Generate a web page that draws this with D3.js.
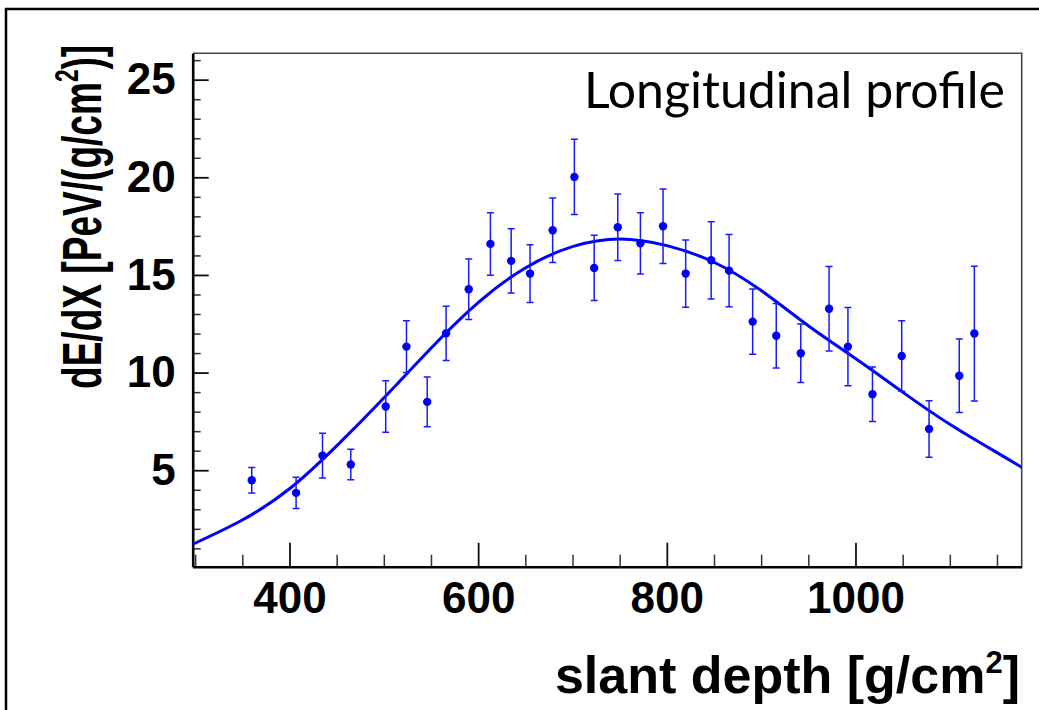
<!DOCTYPE html>
<html>
<head>
<meta charset="utf-8">
<script src="https://cdn.jsdelivr.net/npm/d3@7"></script>
<style>
    html, body { margin: 0; padding: 0; background: #ffffff; }
    svg { display: block; }
    .tick-label { font-family: "Liberation Sans", Arial, Helvetica, sans-serif; font-weight: bold; }
</style>
</head>
<body>
<svg id="chart"></svg>
<script>
// Measured points: slant depth [g/cm2], dE/dX and its error
const depth = [360, 407, 435, 465, 502, 524, 546, 566, 590, 613, 635, 655, 679, 702, 723,
               748, 772, 796, 820, 847, 866, 891, 916, 942, 972, 992, 1018, 1049, 1078, 1110, 1126];
const dedx  = [4.49, 3.84, 5.75, 5.29, 8.26, 11.33, 8.50, 12.01, 14.27, 16.59, 15.72, 15.07, 17.29, 20.02, 15.36,
               17.44, 16.62, 17.49, 15.07, 15.75, 15.22, 12.61, 11.89, 10.99, 13.27, 11.33, 8.89, 10.85, 7.11, 9.84, 12.00];
const dedxErr = [0.65, 0.80, 1.15, 0.78, 1.32, 1.32, 1.27, 1.39, 1.55, 1.60, 1.64, 1.48, 1.65, 1.93, 1.67,
                 1.70, 1.57, 1.91, 1.72, 1.98, 1.85, 1.67, 1.65, 1.50, 2.16, 2.00, 1.39, 1.81, 1.45, 1.88, 3.45];

// Fitted profile, every 50 g/cm2
const fitDepth = [297, 350, 400, 450, 500, 550, 600, 650, 700, 750,
                  800, 850, 900, 950, 1000, 1050, 1100, 1150, 1177];
const fitDedx  = [1.20, 2.45, 4.05, 6.25, 8.70, 11.25, 13.58, 15.36, 16.45, 16.84,
                  16.50, 15.65, 14.20, 12.40, 10.72, 9.00, 7.35, 5.90, 5.13];

const xMajor = [400, 600, 800, 1000];
const yMajor = [5, 10, 15, 20, 25];

(function() {
    'use strict';

    const width = 1039, height = 710;
    const frame = { left: 192.7, right: 1021.7, top: 53.3, bottom: 566.7 };
    const blue = '#0000ff';

    const svg = d3.select('#chart')
        .attr('width', width)
        .attr('height', height);

    svg.append('rect')
        .attr('width', width)
        .attr('height', height)
        .attr('fill', '#ffffff');

    // Outer canvas border (right and bottom sides fall outside the picture)
    svg.append('rect')
        .attr('x', 6)
        .attr('y', 9)
        .attr('width', 1100)
        .attr('height', 800)
        .attr('fill', 'none')
        .attr('stroke', '#000')
        .attr('stroke-width', 2.5);

    // Scales
    const xScale = d3.scaleLinear()
        .domain([297.4, 1176.2])
        .range([frame.left, frame.right]);

    const yScale = d3.scaleLinear()
        .domain([0.06, 26.35])
        .range([frame.bottom, frame.top]);

    const innerW = frame.right - frame.left;
    const innerH = frame.bottom - frame.top;

    // Clip for the fit curve
    svg.append('clipPath')
        .attr('id', 'plot-clip')
        .append('rect')
        .attr('x', frame.left)
        .attr('y', frame.top)
        .attr('width', innerW)
        .attr('height', innerH);

    // Top and right frame lines
    svg.append('path')
        .attr('d', `M${frame.left},${frame.top}H${frame.right}V${frame.bottom}`)
        .attr('fill', 'none')
        .attr('stroke', '#444')
        .attr('stroke-width', 1.6);

    // X axis: minor ticks every 50, major with labels
    const xMinor = d3.range(300, 1176, 50).filter(v => !xMajor.includes(v));

    svg.append('g')
        .attr('transform', `translate(0, ${frame.bottom})`)
        .call(d3.axisBottom(xScale).tickValues(xMinor).tickSize(-12).tickFormat(''))
        .call(g => g.select('.domain').remove())
        .call(g => g.selectAll('line').attr('stroke', '#333').attr('stroke-width', 1.5));

    const xAxis = svg.append('g')
        .attr('transform', `translate(0, ${frame.bottom})`)
        .call(d3.axisBottom(xScale)
            .tickValues(xMajor)
            .tickFormat(d3.format('d'))
            .tickSize(-24)
            .tickSizeOuter(0)
            .tickPadding(15));

    xAxis.select('.domain')
        .attr('stroke', '#000')
        .attr('stroke-width', 2.6);
    xAxis.selectAll('line').attr('stroke', '#111').attr('stroke-width', 1.8);
    xAxis.selectAll('text')
        .attr('class', 'tick-label')
        .attr('fill', '#000')
        .style('font-size', '44px');

    // Y axis: minor ticks every 1, major with labels
    const yMinor = d3.range(1, 27, 1).filter(v => !yMajor.includes(v));

    svg.append('g')
        .attr('transform', `translate(${frame.left}, 0)`)
        .call(d3.axisLeft(yScale).tickValues(yMinor).tickSize(-8).tickFormat(''))
        .call(g => g.select('.domain').remove())
        .call(g => g.selectAll('line').attr('stroke', '#333').attr('stroke-width', 1.5));

    const yAxis = svg.append('g')
        .attr('transform', `translate(${frame.left}, 0)`)
        .call(d3.axisLeft(yScale).tickValues(yMajor).tickSize(-16).tickSizeOuter(0).tickPadding(17));

    yAxis.select('.domain')
        .attr('stroke', '#000')
        .attr('stroke-width', 2.6);
    yAxis.selectAll('line').attr('stroke', '#111').attr('stroke-width', 1.8);
    yAxis.selectAll('text')
        .attr('class', 'tick-label')
        .attr('fill', '#000')
        .style('font-size', '44px');

    // Fit curve
    const line = d3.line()
        .x((d, i) => xScale(fitDepth[i]))
        .y(d => yScale(d))
        .curve(d3.curveNatural);

    svg.append('path')
        .datum(fitDedx)
        .attr('clip-path', 'url(#plot-clip)')
        .attr('fill', 'none')
        .attr('stroke', blue)
        .attr('stroke-width', 3)
        .attr('d', line);

    // Error bars with small caps
    const points = depth.map((x, i) => ({ x: x, y: dedx[i], e: dedxErr[i] }));

    const bars = svg.append('g')
        .attr('stroke', '#1a1aff')
        .attr('stroke-width', 1.5);

    bars.selectAll('.err')
        .data(points)
        .enter()
        .append('path')
        .attr('class', 'err')
        .attr('fill', 'none')
        .attr('d', d => {
            const x = xScale(d.x), y0 = yScale(d.y - d.e), y1 = yScale(d.y + d.e);
            return `M${x},${y0}V${y1}M${x - 3.5},${y0}H${x + 3.5}M${x - 3.5},${y1}H${x + 3.5}`;
        });

    // Markers
    svg.append('g')
        .selectAll('circle')
        .data(points)
        .enter()
        .append('circle')
        .attr('cx', d => xScale(d.x))
        .attr('cy', d => yScale(d.y))
        .attr('r', 4.2)
        .attr('fill', blue);

    // Legend text
    svg.append('text')
        .attr('x', 1005)
        .attr('y', 108)
        .attr('text-anchor', 'end')
        .style('font-family', 'Lato, "Open Sans", sans-serif')
        .style('font-size', '50px')
        .attr('fill', '#000')
        .text('Longitudinal profile');

    // Axis titles
    const xTitle = svg.append('text')
        .attr('class', 'tick-label')
        .attr('x', 1020)
        .attr('y', 693)
        .attr('text-anchor', 'end')
        .style('font-size', '52px')
        .attr('fill', '#000');
    xTitle.append('tspan').text('slant depth [g/cm');
    xTitle.append('tspan').attr('dy', -20).style('font-size', '31px').text('2');
    xTitle.append('tspan').attr('dy', 20).text(']');

    // y title is drawn taller than wide, as in the reference
    const yTitle = svg.append('text')
        .attr('class', 'tick-label')
        .attr('transform', 'translate(101, 389) rotate(-90) scale(1.03, 1.55)')
        .attr('text-anchor', 'start')
        .style('font-size', '36px')
        .attr('fill', '#000');
    yTitle.append('tspan').text('dE/dX [PeV/(g/cm');
    yTitle.append('tspan').attr('dy', -15).style('font-size', '22px').text('2');
    yTitle.append('tspan').attr('dy', 15).text(')]');
})();
</script>
</body>
</html>
